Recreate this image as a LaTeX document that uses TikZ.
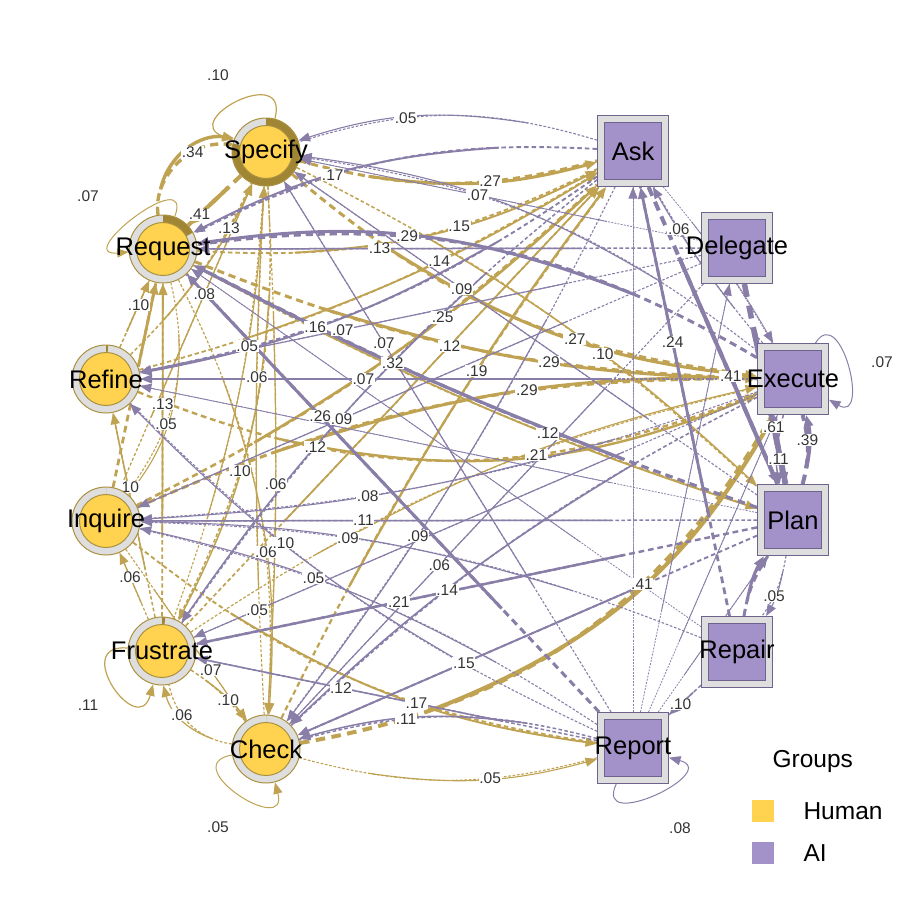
\documentclass[tikz,border=0pt]{standalone}
\usepackage{fontspec}
\setmainfont{Liberation Sans}
\usetikzlibrary{arrows.meta,positioning}
\definecolor{humfill}{RGB}{255,211,79}
\definecolor{aifill}{RGB}{163,145,201}
\definecolor{ringgray}{RGB}{222,222,222}
\definecolor{ringgold}{RGB}{160,134,52}
\definecolor{humline}{RGB}{170,145,65}
\definecolor{ailine}{RGB}{110,99,140}
\definecolor{edgegold}{RGB}{191,163,82}
\definecolor{edgepurple}{RGB}{137,126,168}
\definecolor{labgray}{RGB}{51,51,51}
\pgfdeclarelayer{edgelayer}
\pgfdeclarelayer{lablayer}
\pgfsetlayers{edgelayer,lablayer,main}
\newcommand\edglab{.65}
\newcommand\edgdash{.22}
% edge: dashed start, solid end with tip, label at \edglab
\newcommand\tnaedge[5][]{%
  \begin{pgfonlayer}{edgelayer}
    \draw[edgeline,#1,startdash] (#2) to[bend left={(#4)}]
      coordinate[pos=\edgdash] (e-d) coordinate[pos=\edglab] (e-l) (#3);
    \draw[edgeline,#1,edgetip] (e-d) to[bend left={(1-\edgdash)*(#4)}] (#3);
  \end{pgfonlayer}
  \def\edgtext{#5}%
  \ifx\edgtext\empty\else
    \begin{pgfonlayer}{lablayer}
      \node[elabel] at (e-l) {#5};
    \end{pgfonlayer}
  \fi}

\begin{document}
\begin{tikzpicture}[x=1pt,y=1pt,
  nodetext/.style={font=\fontsize{25.5}{26}\selectfont,text=black},
  human/.style={circle,minimum size=68pt,inner sep=0pt,fill=ringgray,draw=humline,line width=1pt,
    path picture={
      \fill[ringgold] (path picture bounding box.center) ++(90:34pt)
        arc[start angle=90,end angle={90-360*#1},radius=34pt] -- ++({90-360*#1}:-8pt)
        arc[start angle={90-360*#1},end angle=90,radius=26pt] -- cycle;
      \draw[humline,line width=1pt,fill=humfill]
        (path picture bounding box.center) circle[radius=26.5pt];}},
  aibox/.style={rectangle,minimum size=71pt,inner sep=0pt,fill=ringgray,draw=ailine,line width=1pt,
    path picture={\draw[ailine,line width=1pt,fill=aifill]
      ([shift={(-28.5pt,-28.5pt)}]path picture bounding box.center) rectangle ++(57pt,57pt);}},
  edgeline/.style={line cap=butt},
  w/.style={line width=#1pt},
  fromhuman/.style={draw=edgegold},
  fromai/.style={draw=edgepurple},
  startdash/.style={dash pattern=on 2.4\pgflinewidth off 1.6\pgflinewidth},
  edgetip/.style={-{Triangle[length=11.5pt,width=9pt]}},
  elabel/.style={font=\fontsize{15.5}{15.5}\selectfont,text=labgray,fill=white,inner sep=0.6pt},
  lpos/.store in=\edglab, dpos/.store in=\edgdash,
  legtext/.style={font=\fontsize{24.5}{25}\selectfont},
  legkey/.style={minimum size=22pt,inner sep=0pt},
]
\useasboundingbox (0,0) rectangle (900,-900);

% Human nodes (left)
\node[human=.79,label={[nodetext]center:Specify}]   (specify)   at (266,-152) {};
\node[human=.17,label={[nodetext]center:Request}]   (request)   at (163,-249) {};
\node[human=.01,label={[nodetext]center:Refine}]    (refine)    at (106,-379) {};
\node[human=0,label={[nodetext]center:Inquire}]     (inquire)   at (106,-521) {};
\node[human=.015,label={[nodetext]center:Frustrate}] (frustrate) at (162,-651) {};
\node[human=0,label={[nodetext]center:Check}]       (check)     at (266,-749) {};

% AI nodes (right)
\node[aibox,label={[nodetext]center:Ask}]      (ask)      at (633,-151) {};
\node[aibox,label={[nodetext]center:Delegate}] (delegate) at (737,-248) {};
\node[aibox,label={[nodetext]center:Execute}]  (execute)  at (793,-379) {};
\node[aibox,label={[nodetext]center:Plan}]     (plan)     at (793,-520) {};
\node[aibox,label={[nodetext]center:Repair}]   (repair)   at (737,-652) {};
\node[aibox,label={[nodetext]center:Report}]   (report)   at (633,-748) {};

% Self loops
\begin{pgfonlayer}{edgelayer}
  \draw[fromhuman,w=1.2,edgetip] (specify) to[out=75,in=160,min distance=58pt] (specify);
  \draw[fromhuman,w=1,edgetip] (request) to[out=70,in=185,min distance=58pt] (request);
  \draw[fromhuman,w=1.2,edgetip] (frustrate) to[out=175,in=255,min distance=58pt] (frustrate);
  \draw[fromhuman,w=1,edgetip] (check) to[out=190,in=285,min distance=58pt] (check);
  \draw[fromai,w=1,edgetip] (execute) to[out=58,in=-30,min distance=48pt] (execute);
  \draw[fromai,w=1,edgetip] (report) to[out=245,in=-15,min distance=55pt] (report);
\end{pgfonlayer}
\begin{pgfonlayer}{lablayer}
  \node[elabel] (l-specify) at ([shift={(-48,77)}]specify.center) {.10};
  \node[elabel] (l-request) at ([shift={(-75,53)}]request.center) {.07};
  \node[elabel] (l-frustrate) at ([shift={(-74,-54)}]frustrate.center) {.11};
  \node[elabel] (l-check) at ([shift={(-48,-78)}]check.center) {.05};
  \node[elabel] (l-execute) at ([shift={(89,17)}]execute.center) {.07};
  \node[elabel] (l-report) at ([shift={(47,-80)}]report.center) {.08};
\end{pgfonlayer}

% Human -> Human
\tnaedge[fromhuman,w=3.4]{request}{specify}{55}{.34}
\tnaedge[fromhuman,w=4.0,lpos=.8]{specify}{request}{0}{.41}
\tnaedge[fromhuman,w=1.5,lpos=.78]{refine}{specify}{-10}{.13}
\tnaedge[fromhuman,w=1.5]{refine}{request}{0}{.10}
\tnaedge[fromhuman,w=2.8,dpos=.6]{inquire}{request}{0}{}
\tnaedge[fromhuman,w=1.5]{frustrate}{refine}{0}{.10}
\tnaedge[fromhuman,w=1.2]{frustrate}{inquire}{0}{.06}
\tnaedge[fromhuman,w=1.8]{frustrate}{request}{0}{.13}
\tnaedge[fromhuman,w=1.1]{request}{inquire}{25}{.05}
\tnaedge[fromhuman,w=1.3]{inquire}{specify}{0}{.08}
\tnaedge[fromhuman,w=1.1]{frustrate}{specify}{-8}{.05}
\tnaedge[fromhuman,w=1.5]{specify}{frustrate}{15}{.10}
\tnaedge[fromhuman,w=1.2,lpos=.57]{specify}{check}{3}{.06}
\tnaedge[fromhuman,w=1.2]{check}{specify}{3}{.06}
\tnaedge[fromhuman,w=1.2]{request}{check}{15}{.06}
\tnaedge[fromhuman,w=1.1,lpos=.72]{inquire}{check}{0}{.07}
\tnaedge[fromhuman,w=1.5]{frustrate}{check}{10}{.10}
\tnaedge[fromhuman,w=1.2]{check}{frustrate}{35}{.06}

% Human -> AI
\tnaedge[fromhuman,w=3.0]{specify}{ask}{-15}{.27}
\tnaedge[fromhuman,w=1.9]{request}{ask}{-15}{.15}
\tnaedge[fromhuman,w=1.8]{refine}{ask}{-8}{.14}
\tnaedge[fromhuman,w=2.6]{inquire}{ask}{-8}{.25}
\tnaedge[fromhuman,w=1.7]{frustrate}{ask}{0}{.12}
\tnaedge[fromhuman,w=2.2]{check}{ask}{5}{.19}
\tnaedge[fromhuman,w=3.0]{specify}{execute}{-17}{.27}
\tnaedge[fromhuman,w=1.5]{specify}{plan}{8}{.10}
\tnaedge[fromhuman,w=3.0]{request}{execute}{-10}{.29}
\tnaedge[fromhuman,w=1.8]{request}{plan}{-5}{.12}
\tnaedge[fromhuman,w=2.4]{refine}{execute}{-22}{.21}
\tnaedge[fromhuman,w=3.0]{inquire}{execute}{12}{.29}
\tnaedge[fromhuman,w=1.2]{frustrate}{execute}{10}{}
\tnaedge[fromhuman,w=4.0]{check}{execute}{-25}{.41}
\tnaedge[fromhuman,w=1.9]{inquire}{report}{-15}{.17}
\tnaedge[fromhuman,w=1.1]{check}{report}{-15}{.05}

% AI -> Human
\tnaedge[fromai,w=1.1]{ask}{specify}{-17}{.05}
\tnaedge[fromai,w=1.9]{ask}{request}{-15}{.17}
\tnaedge[fromai,w=1.9]{ask}{refine}{12}{.16}
\tnaedge[fromai,w=1.5]{ask}{frustrate}{-8}{.12}
\tnaedge[fromai,w=1.1]{ask}{check}{5}{.09}
\tnaedge[fromai,w=0.8]{delegate}{specify}{0}{}
\tnaedge[fromai,w=1.5]{delegate}{request}{0}{.13}
\tnaedge[fromai,w=1.1]{delegate}{refine}{0}{.07}
\tnaedge[fromai,w=1.1]{delegate}{inquire}{0}{.09}
\tnaedge[fromai,w=1.1]{delegate}{check}{0}{.06}
\tnaedge[fromai,w=1.1]{execute}{specify}{-15}{.07}
\tnaedge[fromai,w=3.0]{execute}{request}{-19}{.29}
\tnaedge[fromai,w=1.1]{execute}{refine}{0}{.07}
\tnaedge[fromai,w=1.1]{execute}{inquire}{8}{.08}
\tnaedge[fromai,w=1.1,lpos=.9]{execute}{frustrate}{0}{.05}
\tnaedge[fromai,w=1.6]{execute}{check}{-8}{.14}
\tnaedge[fromai,w=1.1]{plan}{specify}{0}{.09}
\tnaedge[fromai,w=3.2]{plan}{request}{4}{.32}
\tnaedge[fromai,w=0.8]{plan}{refine}{0}{}
\tnaedge[fromai,w=1.5]{plan}{inquire}{0}{.11}
\tnaedge[fromai,w=2.4]{plan}{frustrate}{0}{.21}
\tnaedge[fromai,w=1.9]{plan}{check}{0}{.15}
\tnaedge[fromai,w=0.8]{repair}{request}{0}{}
\tnaedge[fromai,w=1.1]{repair}{inquire}{-10}{.09}
\tnaedge[fromai,w=3.0,lpos=.69]{report}{request}{0}{.26}
\tnaedge[fromai,w=1.1,lpos=.71]{report}{specify}{0}{.07}
\tnaedge[fromai,w=1.1]{report}{refine}{10}{.10}
\tnaedge[fromai,w=1.1]{report}{inquire}{-10}{.05}
\tnaedge[fromai,w=1.5]{report}{frustrate}{0}{.12}
\tnaedge[fromai,w=1.5]{report}{check}{-15}{.11}

% AI -> AI
\tnaedge[fromai,w=4.0]{ask}{plan}{0}{.41}
\tnaedge[fromai,w=0.8]{ask}{execute}{5}{}
\tnaedge[fromai,w=5.5,lpos=.73]{delegate}{plan}{0}{.61}
\tnaedge[fromai,w=1.1,lpos=.76]{execute}{ask}{5}{.06}
\tnaedge[fromai,w=4.0]{plan}{execute}{-15}{.39}
\tnaedge[fromai,w=1.5]{execute}{plan}{-15}{.11}
\tnaedge[fromai,w=1.1]{plan}{repair}{12}{.05}
\tnaedge[fromai,w=3.0]{repair}{plan}{12}{}
\tnaedge[fromai,w=2.8]{repair}{ask}{0}{.24}
\tnaedge[fromai,w=1.5]{repair}{report}{0}{.10}
\tnaedge[fromai,w=0.8]{report}{ask}{0}{}
\tnaedge[fromai,w=0.8]{report}{delegate}{0}{}
\tnaedge[fromai,w=0.8]{report}{execute}{0}{}
\tnaedge[fromai,w=0.8]{report}{plan}{0}{}

% Legend
\node[legtext,anchor=west] (groups) at (769,-761) {Groups};
\node[legkey,fill=humfill] (key-human) at (763,-811) {};
\node[legtext,right=37pt of key-human.center,anchor=west] (txt-human) {Human};
\node[legkey,fill=aifill] (key-ai) at (763,-853) {};
\node[legtext,right=37pt of key-ai.center,anchor=west] (txt-ai) {AI};
\end{tikzpicture}
\end{document}
